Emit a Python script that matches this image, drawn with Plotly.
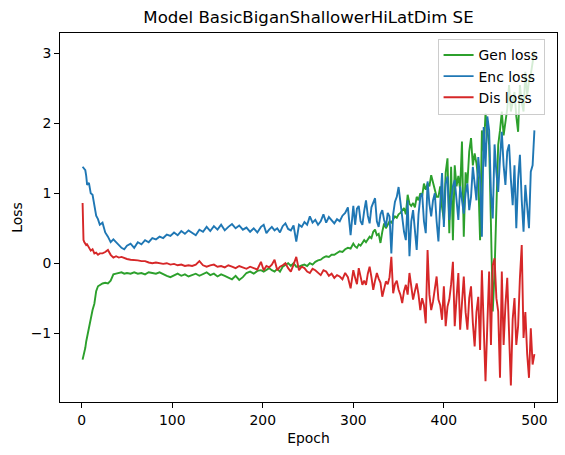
import plotly.graph_objects as go

epochs = [
    1, 2, 3, 4, 5, 6, 8, 10, 12, 14,
    16, 18, 20, 23, 26, 29, 32, 35, 38, 41,
    44, 47, 50, 54, 58, 62, 66, 70, 74, 78,
    82, 86, 90, 94, 98, 102, 106, 110, 114, 118,
    122, 126, 130, 134, 138, 142, 146, 150, 154, 158,
    162, 166, 170, 174, 178, 182, 186, 190, 194, 198,
    201, 204, 207, 210, 213, 216, 219, 222, 225, 228,
    231, 234, 237, 240, 243, 246, 249, 252, 255, 258,
    261, 264, 267, 270, 273, 276, 279, 282, 285, 288,
    291, 294, 297, 300, 302, 304, 306, 308, 310, 312,
    314, 316, 318, 320, 322, 324, 326, 328, 330, 332,
    334, 336, 338, 340, 342, 344, 346, 348, 350, 352,
    354, 356, 358, 360, 362, 364, 366, 368, 370, 372,
    374, 376, 378, 380, 382, 384, 386, 388, 390, 392,
    394, 396, 398, 400, 402, 404, 406, 408, 410, 412,
    414, 416, 418, 420, 422, 424, 426, 428, 430, 432,
    434, 436, 438, 440, 442, 444, 446, 448, 450, 452,
    454, 456, 458, 460, 462, 464, 466, 468, 470, 472,
    474, 476, 478, 480, 482, 484, 486, 488, 490, 492,
    494, 496, 498, 500,
]

gen_loss = [
    -1.38, -1.33, -1.28, -1.21, -1.12, -1.05, -0.92, -0.78, -0.67, -0.58,
    -0.40, -0.33, -0.31, -0.29, -0.28, -0.29, -0.25, -0.16, -0.15, -0.14,
    -0.13, -0.15, -0.14, -0.15, -0.13, -0.15, -0.14, -0.16, -0.13, -0.14,
    -0.15, -0.13, -0.16, -0.18, -0.20, -0.17, -0.15, -0.18, -0.16, -0.19,
    -0.17, -0.15, -0.18, -0.16, -0.13, -0.17, -0.15, -0.19, -0.16, -0.18,
    -0.20, -0.23, -0.18, -0.24, -0.20, -0.14, -0.12, -0.15, -0.11, -0.10,
    -0.12, -0.09, -0.07, -0.10, -0.12, -0.08, -0.12, -0.05, -0.03, 0.00,
    -0.04, 0.00, -0.05, -0.05, -0.03, -0.02, -0.04, 0.00, -0.02, 0.02,
    0.04, 0.05, 0.08, 0.10, 0.09, 0.12, 0.12, 0.15, 0.17, 0.16,
    0.20, 0.22, 0.21, 0.28, 0.24, 0.22, 0.27, 0.25, 0.30, 0.33,
    0.30, 0.35, 0.38, 0.36, 0.45, 0.48, 0.40, 0.42, 0.29, 0.45,
    0.57, 0.50, 0.55, 0.60, 0.58, 0.62, 0.67, 0.65, 0.70, 0.72,
    0.75, 0.79, 0.70, 0.98, 0.85, 0.82, 0.86, 0.80, 0.95, 0.90,
    1.00, 0.96, 1.14, 1.05, 1.14, 1.10, 1.26, 1.15, 1.05, 0.95,
    0.95, 1.10, 0.80, 0.62, 1.30, 1.50, 0.43, 1.38, 0.33, 1.40,
    1.10, 1.25, 1.05, 1.74, 0.38, 1.30, 1.14, 1.60, 1.79, 1.40,
    1.57, 1.43, 1.20, 0.33, 1.90, 1.60, 2.14, 1.86, 1.69, 0.55,
    -0.69, -0.12, 1.00, 1.69, 1.90, 2.17, 1.83, 2.00, 2.21, 2.55,
    2.17, 2.30, 2.45, 2.10, 1.88, 2.55, 2.30, 2.17, 2.74, 2.40,
    2.60, 2.70, 2.85, 3.04,
]

enc_loss = [
    1.38, 1.36, 1.35, 1.33, 1.25, 1.12, 1.15, 1.00, 0.98, 0.80,
    0.68, 0.63, 0.55, 0.58, 0.44, 0.38, 0.30, 0.34, 0.30, 0.26,
    0.22, 0.20, 0.25, 0.28, 0.22, 0.30, 0.27, 0.33, 0.30, 0.36,
    0.34, 0.38, 0.36, 0.41, 0.39, 0.44, 0.40, 0.46, 0.42, 0.47,
    0.44, 0.40, 0.48, 0.45, 0.52, 0.46, 0.53, 0.48, 0.55, 0.47,
    0.52, 0.56, 0.50, 0.54, 0.48, 0.51, 0.45, 0.50, 0.44, 0.52,
    0.55, 0.43, 0.48, 0.52, 0.47, 0.50, 0.44, 0.53, 0.57, 0.49,
    0.47, 0.54, 0.31, 0.55, 0.52, 0.59, 0.55, 0.67, 0.58, 0.62,
    0.55, 0.60, 0.70, 0.58, 0.66, 0.62, 0.57, 0.63, 0.60, 0.68,
    0.72, 0.80, 0.40, 0.82, 0.55, 0.78, 0.82, 0.60, 0.55, 0.75,
    0.90, 0.68, 0.57, 0.80, 0.88, 0.93, 0.60, 0.52, 0.70, 0.76,
    0.62, 0.52, 0.72, 0.67, 0.14, 0.70, 0.88, 0.95, 1.09, 0.86,
    0.70, 0.45, 0.33, 0.90, 0.10, 0.60, 0.76, 0.50, 0.19, 0.70,
    0.95, 1.00, 0.60, 0.43, 1.17, 0.85, 0.67, 0.90, 1.00, 0.60,
    0.31, 0.85, 1.29, 0.52, 1.14, 1.24, 0.62, 0.90, 1.10, 1.19,
    0.85, 0.62, 1.10, 0.90, 0.71, 1.00, 1.14, 0.76, 0.95, 1.38,
    1.10, 0.90, 1.52, 1.20, 0.38, 1.95, 1.38, 2.10, 1.90, 1.00,
    0.64, 1.70, 1.30, 1.02, 1.50, 1.88, 1.40, 1.12, 1.60, 1.70,
    1.20, 0.83, 1.40, 0.50, 1.20, 1.55, 0.90, 0.45, 1.12, 0.80,
    0.50, 1.31, 1.40, 1.90,
]

dis_loss = [
    0.86, 0.33, 0.30, 0.28, 0.26, 0.27, 0.22, 0.18, 0.20, 0.14,
    0.15, 0.12, 0.14, 0.14, 0.16, 0.19, 0.12, 0.08, 0.10, 0.08,
    0.09, 0.07, 0.06, 0.05, 0.05, 0.04, 0.03, 0.03, 0.01, 0.00,
    0.01, 0.00, -0.01, 0.00, -0.02, -0.01, -0.03, -0.02, -0.04, -0.03,
    -0.04, -0.02, 0.03, -0.03, -0.05, -0.03, -0.02, -0.05, -0.04, -0.06,
    -0.03, -0.05, -0.07, -0.04, -0.06, -0.08, -0.05, -0.07, -0.09, 0.02,
    -0.10, -0.04, -0.06, -0.02, 0.05, -0.10, -0.05, -0.03, 0.00, -0.07,
    -0.12, -0.02, 0.09, -0.10, -0.05, -0.07, -0.12, -0.14, -0.08, -0.10,
    -0.13, -0.17, -0.10, -0.12, -0.18, -0.15, -0.21, -0.17, -0.19, -0.23,
    -0.14, -0.20, -0.36, -0.10, -0.21, -0.30, -0.07, -0.20, -0.31, -0.25,
    -0.31, -0.15, -0.05, -0.20, -0.38, -0.25, -0.14, -0.22, -0.28, -0.48,
    -0.35, -0.26, -0.30, -0.20, 0.09, -0.43, -0.30, -0.25, -0.38, -0.45,
    -0.57, -0.40, -0.31, -0.45, -0.14, -0.30, -0.52, -0.40, -0.29, -0.45,
    -0.67, -0.50, -0.60, -0.86, 0.19, -0.45, -0.67, -0.55, -0.40, -0.19,
    -0.52, -0.60, -0.81, -0.33, -0.90, -0.62, -0.52, -0.30, 0.02, -0.90,
    -0.50, -0.14, -0.95, -0.60, -0.19, -0.70, -0.95, -0.50, -0.33, -0.85,
    -1.19, -0.70, -0.48, -1.24, -0.10, -0.90, -1.69, -0.88, -0.12, -1.17,
    -0.03, 0.07, -0.50, -0.69, -1.64, -0.12, -1.17, -0.60, -0.21, -1.00,
    -1.75, -0.80, -0.50, -1.17, -0.90, -0.21, 0.26, -1.07, -0.70, -1.30,
    -1.64, -0.93, -1.45, -1.30,
]

x_ticks = [0, 100, 200, 300, 400, 500]
y_ticks = [-1, 0, 1, 2, 3]

series = [
    ("Gen loss", gen_loss, "#2ca02c"),
    ("Enc loss", enc_loss, "#1f77b4"),
    ("Dis loss", dis_loss, "#d62728"),
]

fig = go.Figure()
for name, vals, color in series:
    fig.add_trace(go.Scatter(
        x=epochs, y=vals, mode="lines", name=name,
        line=dict(color=color, width=1.9),
    ))

font = "DejaVu Sans, sans-serif"
axis_common = dict(
    showline=True, linecolor="black", linewidth=1, mirror=True,
    ticks="outside", ticklen=5, tickcolor="black", tickwidth=1,
    showgrid=False, zeroline=False, automargin=False,
    tickfont=dict(family=font, size=13.9, color="black"),
)

fig.update_layout(
    width=565, height=455,
    margin=dict(l=60, r=8, t=33, b=53),
    paper_bgcolor="white", plot_bgcolor="white",
    font=dict(family=font, size=13.9, color="black"),
    title=dict(text="Model BasicBiganShallowerHiLatDim SE",
               x=0.5, xref="paper", xanchor="center",
               y=1 - 17 / 455, yref="container", yanchor="middle",
               font=dict(family=font, size=16.6, color="black")),
    xaxis=dict(range=[-23.95, 524.95], tickvals=x_ticks,
               title=dict(text="Epoch", standoff=6,
                          font=dict(family=font, size=13.9)),
               **axis_common),
    yaxis=dict(range=[-1.986, 3.294], tickvals=y_ticks,
               title=dict(text="Loss", standoff=4,
                          font=dict(family=font, size=13.9)),
               **axis_common),
    legend=dict(x=0.975, y=0.985, xanchor="right", yanchor="top",
                bgcolor="rgba(255,255,255,0.8)", bordercolor="#cccccc",
                borderwidth=1, font=dict(family=font, size=13.9),
                tracegroupgap=0, itemwidth=30),
    showlegend=True,
)

fig.write_html("out.html",
               config={"displayModeBar": False},
               post_script="document.body.style.margin='0';document.body.style.overflow='hidden';")
